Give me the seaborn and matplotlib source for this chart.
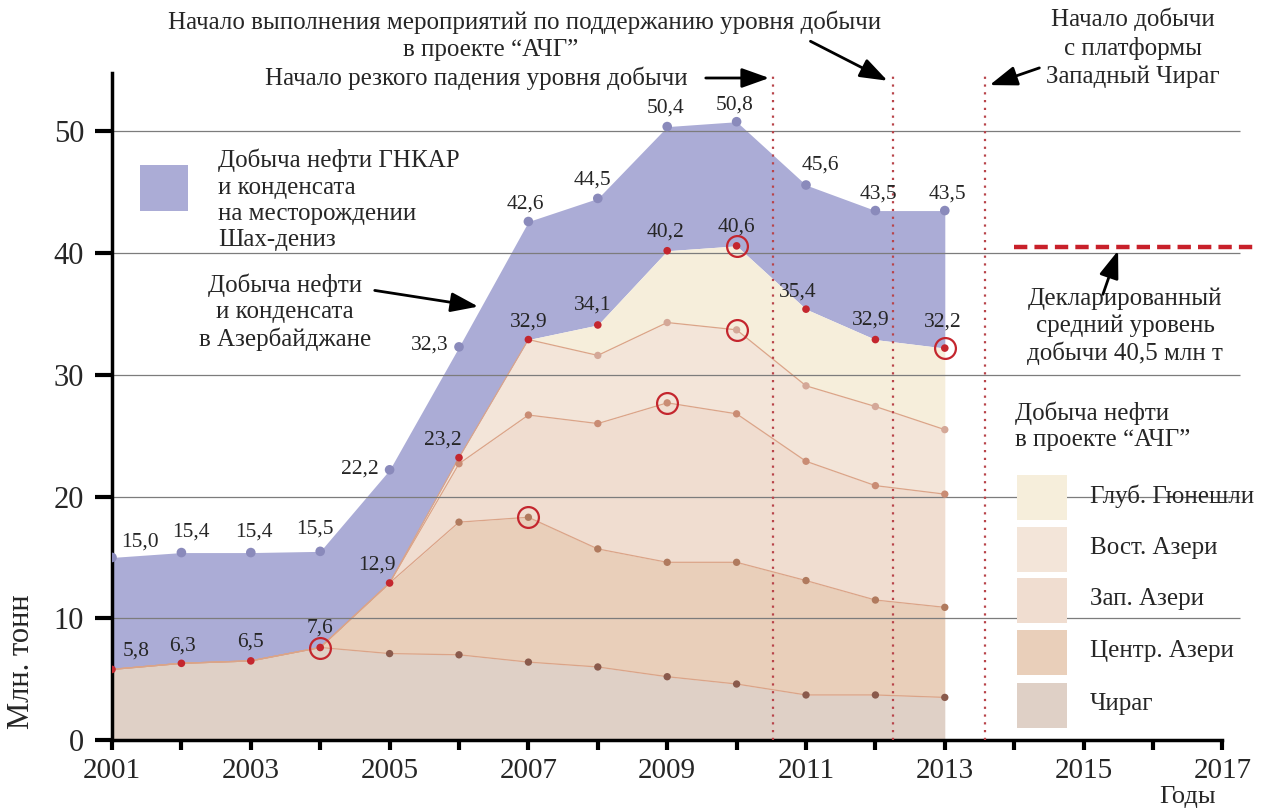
import numpy as np
import matplotlib
matplotlib.use("Agg")
import matplotlib.pyplot as plt
from matplotlib.patches import Rectangle
import seaborn as sns

# ---- data (млн т) ----
years = [2001, 2002, 2003, 2004, 2005, 2006, 2007, 2008, 2009, 2010, 2011, 2012, 2013]
total_az = [15.0, 15.4, 15.4, 15.5, 22.2, 32.3, 42.6, 44.5, 50.4, 50.8, 45.6, 43.5, 43.5]
chirag = [5.8, 6.3, 6.5, 7.6, 7.1, 7.0, 6.4, 6.0, 5.2, 4.6, 3.7, 3.7, 3.5]
central_azeri = [0, 0, 0, 0, 5.8, 10.9, 11.9, 9.7, 9.4, 10.0, 9.4, 7.8, 7.4]
west_azeri = [0, 0, 0, 0, 0, 4.8, 8.4, 10.3, 13.1, 12.2, 9.8, 9.4, 9.3]
east_azeri = [0, 0, 0, 0, 0, 0.5, 6.2, 5.6, 6.6, 6.9, 6.2, 6.5, 5.3]
deep_gunashli = [0, 0, 0, 0, 0, 0, 0, 2.5, 5.9, 6.9, 6.3, 5.5, 6.7]
field_names = ["Чираг", "Центр. Азери", "Зап. Азери", "Вост. Азери", "Глуб. Гюнешли"]

# peaks marked with rings: year and index of field whose cumulative top is marked
ring_years = [2004, 2007, 2009, 2010, 2010, 2013]
ring_fields = [0, 1, 2, 3, 4, 4]

event_years = [2010.52, 2012.25, 2013.58]
declared_level = 40.5
declared_span = [2014.0, 2017.45]

# ---- styles ----
field_colors = ["#dfd0c6", "#e9cfba", "#f0ddd0", "#f3e5d9", "#f6eedb"]
dot_colors = ["#8a5a4c", "#b07a5e", "#c98c74", "#d4a898"]
blue = "#abacd6"
blue_dot = "#8a8abb"
red = "#c4262e"
TXT = 18
NUM = 15.5
LS = 1.25

blue_offsets = [(28, -15), (10, -21), (3, -21), (-5, -22), (-30, -1), (-29, -2), (-3, -17),
                (-5, -18), (-2, -19), (-2, -17), (14, -20), (3, -17), (3, -17)]
red_offsets = [(24, -18), (1, -17), (0, -19), (0, -19), (-13, -18), (-16, -18), (0, -18),
               (-5, -20), (-2, -19), (0, -19), (-8, -17), (-5, -20), (-2, -26)]

sns.set_theme(style="ticks")
plt.rcParams["font.family"] = ["Liberation Serif", "DejaVu Serif"]

W, H = 1263, 809
fig = plt.figure(figsize=(W / 100, H / 100), dpi=100)
fig.patch.set_facecolor("white")
ax = fig.add_axes([112 / W, 69 / H, 1151 / W, 669.4 / H])
ax.set_facecolor("white")


def fx(px):
    return px / W


def fy(py):
    return 1 - py / H


fields = np.array([chirag, central_azeri, west_azeri, east_azeri, deep_gunashli])
cum = np.cumsum(fields, axis=0)
aioc = cum[-1]

# areas
ax.fill_between(years, aioc, total_az, color=blue, lw=0, zorder=1)
prev = np.zeros(len(years))
for i in range(len(fields)):
    ax.fill_between(years, prev, cum[i], color=field_colors[i], lw=0, zorder=1)
    prev = cum[i]

# field boundary lines
for i in range(len(fields) - 1):
    sns.lineplot(x=years, y=cum[i], color="#dba488", lw=0.9, ax=ax, zorder=2)

# grid
ax.hlines([10, 20, 30, 40, 50], 2001, 2017.25, color="#7c7c7c", lw=0.9, zorder=2)

# event lines
ax.vlines(event_years, 0, 54.6, colors="#b8444a", linestyles=(0, (1, 2.5)), lw=1.6, zorder=3)
ax.hlines(declared_level, declared_span[0], declared_span[1], colors="#c8202a",
          linestyles=(0, (3, 1.6)), lw=3.2, zorder=3)

# dots
sns.scatterplot(x=years, y=total_az, color=blue_dot, s=48, edgecolor="none", ax=ax, zorder=5)
sns.scatterplot(x=years, y=aioc, color=red, s=30, edgecolor="none", ax=ax, zorder=6)
for i in range(len(fields) - 1):
    mask = cum[i] < aioc - 1e-9
    sns.scatterplot(x=np.array(years)[mask], y=cum[i][mask], color=dot_colors[i], s=28,
                    edgecolor="none", ax=ax, zorder=5)

# rings
ring_vals = [cum[f][years.index(y)] for y, f in zip(ring_years, ring_fields)]
ax.plot(ring_years, ring_vals, "o", ms=15, mfc="none", mec=red, mew=1.6, zorder=7)

# value labels
for yr, v, (dx, dy) in zip(years, total_az, blue_offsets):
    ax.annotate(f"{v:.1f}".replace(".", ","), (yr, v), xytext=(dx, -dy),
                textcoords="offset pixels", ha="center", va="center", fontsize=NUM, zorder=8)
for yr, v, (dx, dy) in zip(years, aioc, red_offsets):
    ax.annotate(f"{v:.1f}".replace(".", ","), (yr, v), xytext=(dx, -dy),
                textcoords="offset pixels", ha="center", va="center", fontsize=NUM, zorder=8)

# axes
ax.set_xlim(2001, 2001 + 1151 / 69.4)
ax.set_ylim(0, 55)
ax.set_xticks(range(2001, 2018))
ax.set_xticklabels([str(y) if y % 2 == 1 else "" for y in range(2001, 2018)])
ax.set_yticks(range(0, 51, 10))
ax.tick_params(axis="x", direction="out", length=7, width=3, labelsize=21, pad=6, color="black")
ax.tick_params(axis="y", direction="out", length=12, width=3, labelsize=22, pad=8, color="black")
sns.despine(ax=ax)
ax.spines["left"].set_linewidth(2.5)
ax.spines["bottom"].set_linewidth(2.5)
ax.spines["left"].set_color("black")
ax.spines["bottom"].set_color("black")
ax.spines["bottom"].set_bounds(2001, 2017)
ax.spines["left"].set_bounds(0, 54.8)

fig.text(fx(22), fy(662), "Млн. тонн", rotation=90, ha="center", va="center", fontsize=22)
fig.text(fx(1188), fy(797), "Годы", ha="center", va="center", fontsize=19)

# annotations at top
fig.text(fx(525), fy(22), "Начало выполнения мероприятий по поддержанию уровня добычи",
         ha="center", va="center", fontsize=TXT)
fig.text(fx(491), fy(50), "в проекте “АЧГ”", ha="center", va="center", fontsize=TXT)
fig.text(fx(476), fy(78), "Начало резкого падения уровня добычи", ha="center", va="center",
         fontsize=TXT)
fig.text(fx(1133), fy(48), "Начало добычи\nс платформы\nЗападный Чираг", ha="center",
         va="center", fontsize=TXT, linespacing=1.32)

arrow = dict(arrowstyle="-|>,head_length=1.4,head_width=0.5", color="black", lw=2)


def pix_arrow(x0, y0, x1, y1):
    ax.annotate("", xy=(x1, H - y1), xytext=(x0, H - y0), xycoords="figure pixels",
                textcoords="figure pixels", arrowprops=arrow, zorder=9)


pix_arrow(703, 78, 772, 78)
pix_arrow(808, 40, 890, 82)
pix_arrow(1042, 67, 987, 86)
pix_arrow(372, 290, 481, 307)
pix_arrow(1102, 297, 1119, 248)

# left legend (blue area)
fig.add_artist(Rectangle((fx(140), fy(211)), 48 / W, 46 / H, transform=fig.transFigure,
                         facecolor=blue, edgecolor="none"))
fig.text(fx(218), fy(200), "Добыча нефти ГНКАР\nи конденсата\nна месторождении\nШах-дениз",
         ha="left", va="center", fontsize=TXT, linespacing=LS)
fig.text(fx(285), fy(312), "Добыча нефти\nи конденсата\nв Азербайджане", ha="center",
         va="center", fontsize=TXT, linespacing=LS)
fig.text(fx(1125), fy(326), "Декларированный\nсредний уровень\nдобычи 40,5 млн т",
         ha="center", va="center", fontsize=TXT, linespacing=LS)

# right legend (АЧГ fields)
fig.text(fx(1015), fy(426), "Добыча нефти\nв проекте “АЧГ”", ha="left", va="center",
         fontsize=TXT, linespacing=LS)
leg_tops = [683, 630, 578, 527, 475]
for name, col, top in zip(field_names, field_colors, leg_tops):
    fig.add_artist(Rectangle((fx(1017), fy(top + 45)), 50 / W, 45 / H,
                             transform=fig.transFigure, facecolor=col, edgecolor="none"))
    fig.text(fx(1090), fy(top + 21), name, ha="left", va="center", fontsize=TXT)

fig.savefig("out.png", dpi=100, facecolor="white")
